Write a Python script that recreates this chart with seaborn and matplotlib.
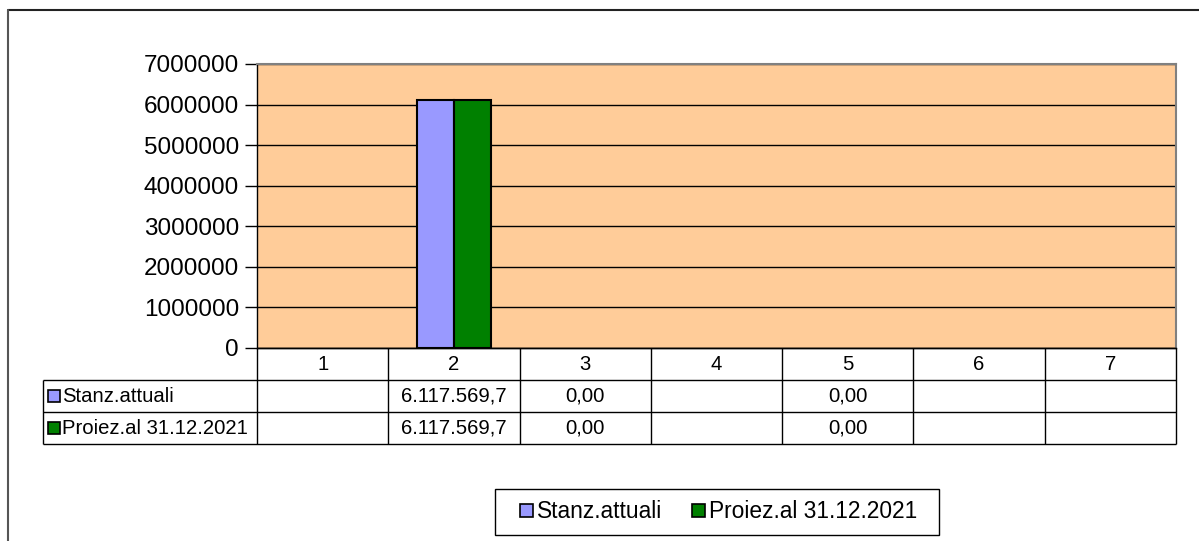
import numpy as np
import pandas as pd
import matplotlib
matplotlib.use("Agg")
import matplotlib.pyplot as plt
import seaborn as sns
from matplotlib.patches import Rectangle, Patch
from matplotlib.lines import Line2D

# Data
categories = ["1", "2", "3", "4", "5", "6", "7"]
series_names = ["Stanz.attuali", "Proiez.al 31.12.2021"]
stanz_attuali = [np.nan, 6117569.7, 0.0, np.nan, 0.0, np.nan, np.nan]
proiez_2021 = [np.nan, 6117569.7, 0.0, np.nan, 0.0, np.nan, np.nan]
series_colors = ["#9999FF", "#008000"]
y_ticks = [0, 1000000, 2000000, 3000000, 4000000, 5000000, 6000000, 7000000]

df = pd.DataFrame({
    "Categoria": categories * 2,
    "Serie": [series_names[0]] * len(categories) + [series_names[1]] * len(categories),
    "Valore": stanz_attuali + proiez_2021,
})


def fmt_it(v):
    # Italian style number text as shown in the data table
    if np.isnan(v):
        return ""
    if v == 0:
        return "0,00"
    s = f"{v:,.1f}"
    return s.replace(",", "X").replace(".", ",").replace("X", ".")


sns.set_style("white")
plt.rcParams["font.family"] = ["Liberation Sans", "DejaVu Sans"]
plt.rcParams["text.color"] = "black"
plt.rcParams["ytick.labelcolor"] = "black"

W, H = 1199, 541
fig = plt.figure(figsize=(W / 100, H / 100), dpi=100)


def px(x0, y0, x1, y1):
    return [x0 / W, 1 - y1 / H, (x1 - x0) / W, (y1 - y0) / H]


# Main plot area
ax = fig.add_axes(px(257, 64, 1176, 348))
ax.set_facecolor("#FFCC99")
ax.set_axisbelow(True)
ax.yaxis.grid(True, color="black", linewidth=1)
sns.barplot(
    data=df, x="Categoria", y="Valore", hue="Serie",
    order=categories, hue_order=series_names, palette=series_colors,
    saturation=1, width=0.57, errorbar=None, edgecolor="black", linewidth=1.5,
    legend=False, ax=ax,
)
# zero-height bars are invisible in the original chart
for p in ax.patches:
    if p.get_height() == 0:
        p.set_linewidth(0)
ax.set_xlim(-0.5, len(categories) - 0.5)
ax.set_ylim(0, 7000000)
ax.set_yticks(y_ticks)
ax.set_yticklabels([str(t) for t in y_ticks])
ax.tick_params(axis="x", bottom=False, labelbottom=False)
ax.tick_params(axis="y", direction="out", length=9, width=1, pad=4,
               labelsize=17.5, left=True, color="black", labelcolor="black")
ax.set_xlabel("")
ax.set_ylabel("")
for side in ["left", "bottom"]:
    ax.spines[side].set_color("black")
    ax.spines[side].set_linewidth(1)
for side in ["top", "right"]:
    ax.spines[side].set_color("#808080")
    ax.spines[side].set_linewidth(1.5)

# Data table under the plot
unit = (1176 - 257) / len(categories)
x_left = -0.5 - (257 - 43) / unit
x_right = len(categories) - 0.5
tab = fig.add_axes(px(43, 348, 1176, 444))
tab.set_xlim(x_left, x_right)
tab.set_ylim(3, 0)
tab.axis("off")

lc = "black"
tab.hlines(0, -0.5, x_right, color=lc, lw=1, clip_on=False)
for r in [1, 2, 3]:
    tab.hlines(r, x_left, x_right, color=lc, lw=1, clip_on=False)
for k in range(len(categories) + 1):
    tab.vlines(k - 0.5, 0, 3, color=lc, lw=1, clip_on=False)
tab.vlines(x_left, 1, 3, color=lc, lw=1, clip_on=False)

tfs = 14.6
for i, c in enumerate(categories):
    tab.text(i, 0.5, c, ha="center", va="center", fontsize=tfs)
for r, (name, vals, col) in enumerate(zip(series_names, [stanz_attuali, proiez_2021], series_colors)):
    y = 1.5 + r
    tab.plot([x_left + 11 / unit], [y], marker="s", markersize=8, color=col,
             markeredgecolor="black", markeredgewidth=1.2, clip_on=False)
    tab.text(x_left + 19 / unit, y, name, ha="left", va="center", fontsize=tfs)
    for i, v in enumerate(vals):
        tab.text(i, y, fmt_it(v), ha="center", va="center", fontsize=tfs)

# Legend box
handles = [Patch(facecolor=c, edgecolor="black", linewidth=1.2) for c in series_colors]
fig.legend(handles, series_names, loc="center",
           bbox_to_anchor=((495 + 939) / 2 / W + 2 / W, 1 - (489 + 535) / 2 / H),
           ncol=2, frameon=False, fontsize=16.4, handlelength=0.55,
           handleheight=0.55, handletextpad=0.2, columnspacing=1.3)
fig.add_artist(Rectangle((495 / W, 1 - 535 / H), (939 - 495) / W, (535 - 489) / H,
                         transform=fig.transFigure, fill=False,
                         edgecolor="black", linewidth=1))

# Outer chart frame (partially cropped in the reference)
fig.add_artist(Line2D([8 / W, 1.0], [1 - 10 / H, 1 - 10 / H],
                      transform=fig.transFigure, color="#222222", lw=1.5))
fig.add_artist(Line2D([8 / W, 8 / W], [1 - 10 / H, 0.0],
                      transform=fig.transFigure, color="#555555", lw=1.5))

fig.savefig("out.png", dpi=100, facecolor="white")
